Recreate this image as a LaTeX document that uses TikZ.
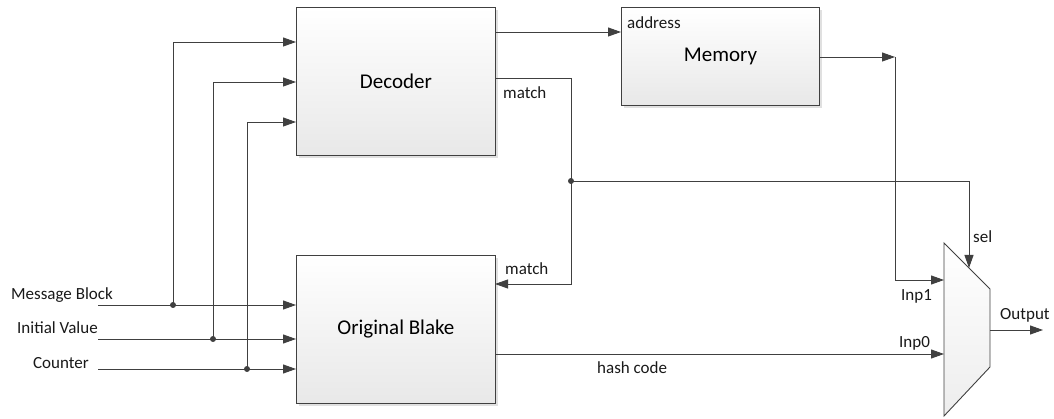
\documentclass[tikz,border=0pt]{standalone}
\usepackage{fontspec}
\setmainfont{Carlito}
\usetikzlibrary{arrows.meta,shadows,calc}
\definecolor{ln}{HTML}{404040}
\tikzset{
  blk/.style={draw=ln, line width=0.9pt, anchor=north west, inner sep=0pt,
    top color=white, bottom color=black!9,
    drop shadow={shadow xshift=3pt, shadow yshift=-3pt, fill=black!12, opacity=1},
    font=\fontsize{21pt}{24pt}\selectfont},
  wire/.style={draw=ln, line width=0.9pt},
  arr/.style={wire, -{Triangle[length=13pt,width=9pt]}},
  lbl/.style={inner sep=0pt, font=\fontsize{17pt}{20pt}\selectfont, text=black!90},
  dot/.style={circle, fill=ln, inner sep=0pt, minimum size=6pt},
}
\begin{document}
\begin{tikzpicture}[x=1pt,y=-1pt]
\useasboundingbox (0,0) rectangle (1054,419);
% blocks
\node[blk, minimum width=199pt, minimum height=148pt] (dec) at (296,7) {Decoder};
\node[blk, minimum width=199pt, minimum height=148pt] (blake) at (296,255) {Original Blake};
\node[blk, minimum width=198pt, minimum height=98pt] (mem) at (621,7) {Memory};
% mux
\coordinate (m1) at (944,243);
\coordinate (m2) at (990,289);
\coordinate (m3) at (990,367);
\coordinate (m4) at (944,416);
\path[draw=ln, line width=0.9pt, top color=white, bottom color=black!7] (m1) -- (m2) -- (m3) -- (m4) -- cycle;
% input coordinates
\coordinate (mb) at (98,305);
\coordinate (iv) at (98,339);
\coordinate (ct) at (98,369);
\coordinate (j1) at (173,305);
\coordinate (j2) at (213,339);
\coordinate (j3) at (247,369);
\coordinate (d1) at (296,42);
\coordinate (d2) at (296,82);
\coordinate (d3) at (296,122);
\draw[arr] (mb) -- (mb -| blake.west);
\draw[arr] (iv) -- (iv -| blake.west);
\draw[arr] (ct) -- (ct -| blake.west);
\draw[arr] (j1) |- (d1);
\draw[arr] (j2) |- (d2);
\draw[arr] (j3) |- (d3);
\node[dot] at (j1) {};
\node[dot] at (j2) {};
\node[dot] at (j3) {};
% decoder to memory
\coordinate (da) at (495,32);
\draw[arr] (da) -- (da -| mem.west);
% match
\coordinate (mo) at (495,78);
\coordinate (mc) at (571,78);
\coordinate (jm) at (571,181);
\coordinate (mi) at (495,284);
\draw[arr] (mo) -- (mc) |- (mi);
\coordinate (sc) at (969,181);
\coordinate (si) at (969,268);
\draw[arr] (jm) -- (sc) -- (si);
\node[dot] at (jm) {};
% memory output
\coordinate (meo) at (819,57);
\coordinate (mx) at (895,57);
\coordinate (i1) at (944,280);
\draw[arr] (meo) -- (mx);
\draw[arr] (mx) |- (i1);
% hash code
\coordinate (ho) at (495,354);
\coordinate (i0) at (944,354);
\draw[arr] (ho) -- (i0);
% output
\coordinate (oo) at (990,330);
\coordinate (oe) at (1043,330);
\draw[arr] (oo) -- (oe);
% labels
\node[lbl, anchor=east] (lmb) at (113,295) {Message Block};
\node[lbl, anchor=east] (liv) at (98,328) {Initial Value};
\node[lbl, anchor=east] (lct) at (89,363) {Counter};
\node[lbl, anchor=west] (lad) at (627,23) {address};
\node[lbl, anchor=west] (lm1) at (503,93) {match};
\node[lbl, anchor=west] (lm2) at (505,269) {match};
\node[lbl, anchor=west] (lhc) at (597,368) {hash code};
\node[lbl, anchor=west] (lin1) at (901,296) {Inp1};
\node[lbl, anchor=west] (lin0) at (899,343) {Inp0};
\node[lbl, anchor=west] (lsel) at (973,237) {sel};
\node[lbl, anchor=west] (lout) at (1000,315) {Output};
\end{tikzpicture}
\end{document}
